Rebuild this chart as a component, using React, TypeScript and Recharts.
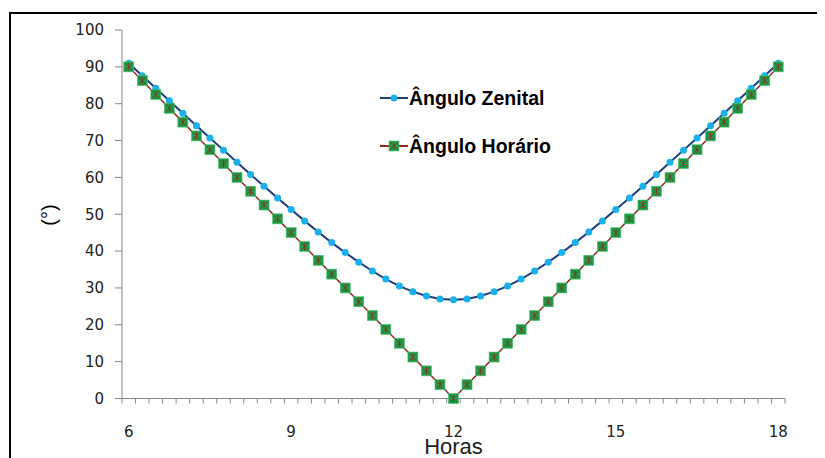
import React from 'react';
import { LineChart, Line, XAxis, YAxis, Legend, Label } from 'recharts';

const hours = [6, 6.25, 6.5, 6.75, 7, 7.25, 7.5, 7.75, 8, 8.25, 8.5, 8.75, 9, 9.25, 9.5, 9.75, 10, 10.25, 10.5, 10.75, 11, 11.25, 11.5, 11.75, 12, 12.25, 12.5, 12.75, 13, 13.25, 13.5, 13.75, 14, 14.25, 14.5, 14.75, 15, 15.25, 15.5, 15.75, 16, 16.25, 16.5, 16.75, 17, 17.25, 17.5, 17.75, 18];

const anguloZenital = [91.0, 87.6, 84.2, 80.8, 77.4, 74.0, 70.7, 67.4, 64.1, 60.8, 57.6, 54.4, 51.3, 48.2, 45.2, 42.3, 39.6, 37.0, 34.6, 32.4, 30.5, 29.0, 27.8, 27.0, 26.8, 27.0, 27.8, 29.0, 30.5, 32.4, 34.6, 37.0, 39.6, 42.3, 45.2, 48.2, 51.3, 54.4, 57.6, 60.8, 64.1, 67.4, 70.7, 74.0, 77.4, 80.8, 84.2, 87.6, 91.0];

const anguloHorario = [90, 86.25, 82.5, 78.75, 75, 71.25, 67.5, 63.75, 60, 56.25, 52.5, 48.75, 45, 41.25, 37.5, 33.75, 30, 26.25, 22.5, 18.75, 15, 11.25, 7.5, 3.75, 0, 3.75, 7.5, 11.25, 15, 18.75, 22.5, 26.25, 30, 33.75, 37.5, 41.25, 45, 48.75, 52.5, 56.25, 60, 63.75, 67.5, 71.25, 75, 78.75, 82.5, 86.25, 90];

const xLabelTicks = [6, 9, 12, 15, 18];
const yTicks = [0, 10, 20, 30, 40, 50, 60, 70, 80, 90, 100];

const data = hours.map((h, i) => ({ h, zen: anguloZenital[i], hor: anguloHorario[i] }));
const boundaryTicks = [...hours.map((h) => h - 0.125), hours[hours.length - 1] + 0.125];
const allXTicks = [...boundaryTicks, ...xLabelTicks].sort((a, b) => a - b);

const AXIS = '#868686';
const NAVY = '#1f3c7c';
const BLUE = '#1ab0ea';
const RED = '#8e2a1e';
const GREEN = '#1c9e48';
const TICKFONT = 'DejaVu Sans, Verdana, sans-serif';

const XTick = (props: any) => {
  const { x, y, payload } = props;
  const v = payload.value;
  if (xLabelTicks.includes(v)) {
    return (
      <text x={x} y={y + 38} textAnchor="middle" fontFamily={TICKFONT} fontSize={15} fill="#222">
        {v}
      </text>
    );
  }
  return <line x1={x} x2={x} y1={y} y2={y + 5} stroke={AXIS} strokeWidth={1} />;
};

const HorarioMarker = ({ cx, cy }: { cx: number; cy: number }) => (
  <g>
    <rect x={cx - 5} y={cy - 5} width={10} height={10} fill={GREEN} stroke="#4cc070" strokeWidth={0.6} />
    <line x1={cx - 3.5} y1={cy - 3.5} x2={cx + 3.5} y2={cy + 3.5} stroke={RED} strokeWidth={0.8} />
    <line x1={cx - 3.5} y1={cy + 3.5} x2={cx + 3.5} y2={cy - 3.5} stroke={RED} strokeWidth={0.8} />
    <line x1={cx} y1={cy - 4} x2={cx} y2={cy + 4} stroke={RED} strokeWidth={0.8} />
  </g>
);

const HorarioDot = (props: any) => {
  const { cx, cy, index } = props;
  if (cx == null || cy == null) return <g key={index} />;
  return <HorarioMarker key={index} cx={cx} cy={cy} />;
};

const LegendContent = () => (
  <svg width={200} height={72} style={{ display: 'block' }}>
    <line x1={0} x2={28} y1={12} y2={12} stroke={NAVY} strokeWidth={2} />
    <circle cx={14} cy={12} r={3.5} fill={BLUE} />
    <text x={29} y={12} dominantBaseline="central" fontFamily="Liberation Sans, Arial, sans-serif" fontWeight="bold" fontSize={19.5} fill="#000">
      Ângulo Zenital
    </text>
    <line x1={0} x2={28} y1={60} y2={60} stroke={RED} strokeWidth={2} />
    <HorarioMarker cx={14} cy={60} />
    <text x={29} y={60} dominantBaseline="central" fontFamily="Liberation Sans, Arial, sans-serif" fontWeight="bold" fontSize={19.5} fill="#000">
      Ângulo Horário
    </text>
  </svg>
);

export default function App() {
  return (
    <div style={{ position: 'relative', width: 817, height: 450, overflow: 'hidden', background: '#fff' }}>
      <div
        style={{
          position: 'absolute',
          left: 1,
          top: 4,
          width: 1000,
          height: 1000,
          border: '2px solid #000',
          boxSizing: 'border-box',
        }}
      />
      <div style={{ position: 'absolute', left: 0, top: 0 }}>
        <LineChart width={809} height={450} data={data} margin={{ top: 22, right: 32, bottom: 0, left: 0 }}>
          <XAxis
            dataKey="h"
            type="number"
            domain={[5.875, 18.125]}
            ticks={allXTicks}
            interval={0}
            tick={<XTick />}
            tickLine={false}
            tickSize={0}
            tickMargin={0}
            axisLine={{ stroke: AXIS }}
            height={59.5}
          >
            <Label
              content={(p: any) => {
                const vb = p.viewBox;
                return (
                  <text x={vb.x + vb.width / 2} y={vb.y + 55} textAnchor="middle" fontFamily="Liberation Sans, Arial, sans-serif" fontSize={22} fill="#222">
                    Horas
                  </text>
                );
              }}
            />
          </XAxis>
          <YAxis
            type="number"
            domain={[0, 100]}
            ticks={yTicks}
            interval={0}
            width={114}
            tickSize={7}
            tickMargin={11}
            tickLine={{ stroke: AXIS }}
            axisLine={{ stroke: AXIS }}
            tick={{ fontFamily: TICKFONT, fontSize: 15, fill: '#222' }}
          >
            <Label
              content={() => (
                <text
                  x={41}
                  y={207}
                  textAnchor="middle"
                  dominantBaseline="central"
                  transform="rotate(-90, 41, 207)"
                  fontFamily="Liberation Sans, Arial, sans-serif"
                  fontSize={20}
                  fill="#000"
                >
                  (°)
                </text>
              )}
            />
          </YAxis>
          <Legend
            content={<LegendContent />}
            layout="vertical"
            verticalAlign="middle"
            align="center"
            wrapperStyle={{ left: 372, top: 78, width: 200 }}
          />
          <Line
            type="linear"
            dataKey="zen"
            stroke={NAVY}
            strokeWidth={2}
            dot={{ r: 3.5, fill: BLUE, stroke: 'none' }}
            activeDot={false}
            isAnimationActive={false}
          />
          <Line
            type="linear"
            dataKey="hor"
            stroke={RED}
            strokeWidth={1.5}
            dot={<HorarioDot />}
            activeDot={false}
            isAnimationActive={false}
          />
        </LineChart>
      </div>
    </div>
  );
}
